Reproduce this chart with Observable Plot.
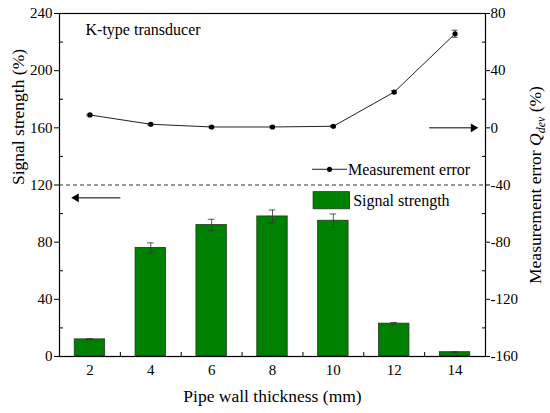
<!DOCTYPE html>
<html>
<head>
<meta charset="utf-8">
<script src="https://cdn.jsdelivr.net/npm/d3@7"></script>
<script src="https://cdn.jsdelivr.net/npm/@observablehq/plot@0.6"></script>
<style>
  html, body { margin: 0; padding: 0; background: white; }
</style>
</head>
<body>
<div id="chart"></div>
<script>
// ---- data ----
const thickness = [2, 4, 6, 8, 10, 12, 14];
const signal = [12, 76, 92, 98, 95, 23, 3];
const signalErr = [0.5, 3.5, 4, 4.5, 4.7, 0.8, 0.3];
const measError = [9, 2.5, 0.6, 0.6, 1.1, 25, 65.8];
const measErrorErr = [0.6, 0.6, 0.6, 0.6, 0.6, 1, 2.5];

const leftTicks = [0, 40, 80, 120, 160, 200, 240];
const leftMinor = [20, 60, 100, 140, 180, 220];
const rightTicks = [-160, -120, -80, -40, 0, 40, 80];
const xMinor = [3, 5, 7, 9, 11, 13];
const offset = 160; // right axis value + offset = left axis value

const bars = thickness.map((x, i) => ({x, v: signal[i], e: signalErr[i]}));
const pts = thickness.map((x, i) => ({x, v: measError[i] + offset, e: measErrorErr[i]}));

// annotation anchors (data coordinates)
const leftArrow = {x1: 3.0, x2: 1.55, y: 111};
const rightArrow = {x1: 13.15, x2: 14.6, y: offset};
const legendLine = {x1: 9.3, x2: 10.45, y: 131};
const legendBox = {x1: 9.35, x2: 10.55, y1: 103, y2: 115};
const green = "#008000";
const font = "Liberation Serif";

const chart = Plot.plot({
  width: 550,
  height: 413,
  marginLeft: 59,
  marginRight: 65,
  marginTop: 13,
  marginBottom: 57,
  x: {domain: [1, 15]},
  y: {domain: [0, 240]},
  style: {fontFamily: font, fontSize: "15px", color: "black", background: "white"},
  marks: [
    // inward major ticks on bottom (hidden behind bars)
    Plot.axisX(thickness, {anchor: "bottom", tickSize: -5, tickFormat: () => "", label: null}),
    Plot.axisX(xMinor, {anchor: "bottom", tickSize: -4, tickFormat: () => "", label: null}),
    Plot.axisX(thickness, {anchor: "bottom", tickSize: 0, tickPadding: 8, label: null, fontSize: 15, fontFamily: font}),
    Plot.axisY(leftTicks, {anchor: "left", tickSize: 5, tickPadding: 2, label: null, fontSize: 15, fontFamily: font}),
    Plot.axisY(leftMinor, {anchor: "left", tickSize: -4, tickFormat: () => "", label: null}),
    Plot.axisY(rightTicks.map(v => v + offset), {anchor: "right", tickSize: 4, tickPadding: 1, label: null, fontSize: 15, fontFamily: font,
      tickFormat: d => String(d - offset)}),
    Plot.axisY(leftMinor, {anchor: "right", tickSize: -4, tickFormat: () => "", label: null}),

    // bars
    Plot.rect(bars, {x1: d => d.x - 0.5, x2: d => d.x + 0.5, y1: 0, y2: "v", fill: green, stroke: "#1e3b1e", strokeWidth: 0.8}),
    Plot.ruleX(bars, {x: "x", y1: d => d.v - d.e, y2: d => d.v + d.e, stroke: "#333", strokeWidth: 0.8}),
    Plot.ruleY(bars, {x1: d => d.x - 0.11, x2: d => d.x + 0.11, y: d => d.v + d.e, stroke: "#333", strokeWidth: 0.8}),
    Plot.ruleY(bars, {x1: d => d.x - 0.11, x2: d => d.x + 0.11, y: d => d.v - d.e, stroke: "#333", strokeWidth: 0.8}),

    // dashed separator
    Plot.ruleY([120], {stroke: "#333", strokeDasharray: "4,3", strokeWidth: 1}),

    // measurement error line
    Plot.line(pts, {x: "x", y: "v", stroke: "#222", strokeWidth: 1}),
    Plot.ruleX(pts, {x: "x", y1: d => d.v - d.e, y2: d => d.v + d.e, stroke: "#333", strokeWidth: 0.8}),
    Plot.ruleY(pts, {x1: d => d.x - 0.1, x2: d => d.x + 0.1, y: d => d.v + d.e, stroke: "#333", strokeWidth: 0.8}),
    Plot.ruleY(pts, {x1: d => d.x - 0.1, x2: d => d.x + 0.1, y: d => d.v - d.e, stroke: "#333", strokeWidth: 0.8}),
    Plot.dot(pts, {x: "x", y: "v", r: 2.6, fill: "black"}),

    // arrows
    Plot.link([leftArrow], {x1: "x1", x2: "x2", y1: "y", y2: "y", stroke: "black", strokeWidth: 1}),
    Plot.dot([leftArrow], {x: "x2", y: "y", symbol: "triangle", rotate: -90, r: 3.2, fill: "black"}),
    Plot.link([rightArrow], {x1: "x1", x2: "x2", y1: "y", y2: "y", stroke: "black", strokeWidth: 1}),
    Plot.dot([rightArrow], {x: "x2", y: "y", symbol: "triangle", rotate: 90, r: 3.2, fill: "black"}),

    // legend
    Plot.link([legendLine], {x1: "x1", x2: "x2", y1: "y", y2: "y", stroke: "#222", strokeWidth: 1}),
    Plot.dot([legendLine], {x: d => (d.x1 + d.x2) / 2, y: "y", r: 2.6, fill: "black"}),
    Plot.text(["Measurement error"], {x: legendLine.x2 + 0.03, y: legendLine.y, text: d => d, textAnchor: "start", lineAnchor: "middle", fontSize: 16, fontFamily: font, dy: 1}),
    Plot.rect([legendBox], {x1: "x1", x2: "x2", y1: "y1", y2: "y2", fill: green, stroke: "#1e3b1e", strokeWidth: 0.8}),
    Plot.text(["Signal strength"], {x: legendBox.x2 + 0.1, y: (legendBox.y1 + legendBox.y2) / 2, text: d => d, textAnchor: "start", lineAnchor: "middle", fontSize: 16, fontFamily: font}),

    // title inside plot
    Plot.text(["K-type transducer"], {frameAnchor: "top-left", dx: 26, dy: 10, text: d => d, textAnchor: "start", lineAnchor: "top", fontSize: 16, fontFamily: font}),

    // axis labels
    Plot.text(["Pipe wall thickness (mm)"], {frameAnchor: "bottom", dy: 33, text: d => d, lineAnchor: "top", fontSize: 17.5, fontFamily: font}),
    Plot.text(["Signal strength (%)"], {frameAnchor: "left", dx: -41, rotate: -90, text: d => d, lineAnchor: "middle", fontSize: 17.5, fontFamily: font}),

    Plot.frame({stroke: "black", strokeWidth: 1.2})
  ]
});

d3.select(chart).attr("font-family", font);

// right axis label with italic subscripted symbol
const t = d3.select(chart).append("text")
  .attr("transform", "translate(541,185) rotate(-90)")
  .attr("text-anchor", "middle")
  .attr("font-family", font)
  .attr("font-size", 17.5)
  .attr("fill", "black");
t.append("tspan").text("Measurement error ");
t.append("tspan").attr("font-style", "italic").text("Q");
t.append("tspan").attr("font-style", "italic").attr("font-size", 12).attr("dy", 4).text("dev");
t.append("tspan").attr("dy", -4).text(" (%)");

document.getElementById("chart").appendChild(chart);
</script>
</body>
</html>
